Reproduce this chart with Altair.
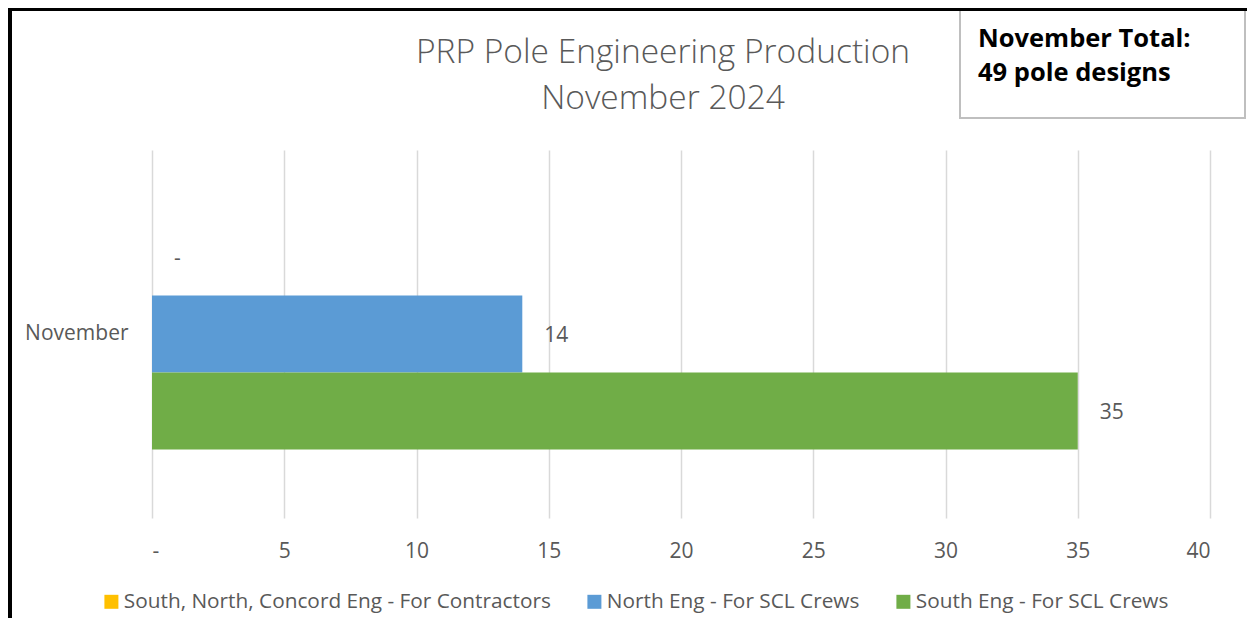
import altair as alt
import pandas as pd

# ---- data ----
category = ["November"]
series = ["South, North, Concord Eng - For Contractors",
          "North Eng - For SCL Crews",
          "South Eng - For SCL Crews"]
values = [0, 14, 35]
colors = ["#FFC000", "#5B9BD5", "#70AD47"]
x_ticks = [0, 5, 10, 15, 20, 25, 30, 35, 40]
title_text = "PRP Pole Engineering Production\nNovember 2024"
total_text = "November Total:\n49 pole designs"

FONT = "Open Sans"
GRAY = "#595959"

df = pd.DataFrame({
    "month": category * len(series),
    "series": series,
    "value": values,
})
df["label"] = ["-" if v == 0 else str(v) for v in values]

W, H = 1058, 368
OX, OY = 152, 150  # page position of plot origin

y_enc = alt.Y("month:N", title=None,
              scale=alt.Scale(paddingInner=0, paddingOuter=0.2965),
              axis=alt.Axis(domain=False, ticks=False, grid=False,
                            labelFont=FONT, labelFontSize=21, labelColor=GRAY,
                            labelPadding=24))
yoff = alt.YOffset("series:N", sort=series,
                   scale=alt.Scale(paddingInner=0, paddingOuter=0))

bars = alt.Chart(df).mark_bar(cornerRadius=0).encode(
    x=alt.X("value:Q", title=None,
            scale=alt.Scale(domain=[0, 40], nice=False),
            axis=alt.Axis(values=x_ticks, domain=False, ticks=False, tickSize=0,
                          grid=True, gridColor="#D9D9D9", gridWidth=1.5,
                          labelFont=FONT, labelFontSize=21, labelColor=GRAY,
                          labelPadding=22,
                          labelExpr="datum.value == 0 ? '-' : datum.label")),
    y=y_enc,
    yOffset=yoff,
    color=alt.Color("series:N", sort=series,
                    scale=alt.Scale(domain=series, range=colors),
                    legend=alt.Legend(title=None, orient="none", direction="horizontal",
                                      legendX=101 - OX, legendY=441,
                                      symbolType="square", symbolSize=196,
                                      symbolStrokeWidth=0,
                                      labelFont=FONT, labelFontSize=20.8, labelColor=GRAY,
                                      labelOffset=2, columnPadding=33,
                                      labelLimit=600)),
)

labels = alt.Chart(df).mark_text(align="left", baseline="middle", dx=22, dy=2,
                                 font=FONT, fontSize=21, color=GRAY).encode(
    x="value:Q",
    y=alt.Y("month:N"),
    yOffset=yoff,
    text="label:N",
)

one = pd.DataFrame({"title": [title_text], "total": [total_text]})

title = alt.Chart(one).mark_text(align="center", baseline="middle",
                                 font=FONT, fontSize=33.5, fontWeight=300,
                                 lineBreak="\n", lineHeight=46,
                                 color=GRAY).encode(
    x=alt.value(663 - OX),
    y=alt.value(53 - OY),
    text="title:N",
)

box = alt.Chart(one).mark_rect(fill="white", stroke="#BFBFBF", strokeWidth=2).encode(
    x=alt.value(960 - OX), x2=alt.value(1245 - OX),
    y=alt.value(10 - OY), y2=alt.value(118 - OY),
)

total = alt.Chart(one).mark_text(align="left", baseline="middle",
                                 font=FONT, fontSize=25.5, fontWeight="bold",
                                 lineBreak="\n", lineHeight=34,
                                 color="#000000").encode(
    x=alt.value(978 - OX),
    y=alt.value(39 - OY),
    text="total:N",
)

border_left = alt.Chart(one).mark_rule(color="black", strokeWidth=4).encode(
    x=alt.value(-142), y=alt.value(-142), y2=alt.value(637 - OY),
)
border_top = alt.Chart(one).mark_rule(color="black", strokeWidth=4).encode(
    x=alt.value(-144), x2=alt.value(1255 - OX), y=alt.value(-141),
)

chart = alt.layer(bars, labels, title, box, total, border_left, border_top).properties(
    width=W, height=H,
    autosize=alt.AutoSizeParams(type="none"),
    padding={"left": 144, "top": 142, "right": 37, "bottom": 100},
).configure(background="white", view=alt.ViewConfig(stroke=None))

chart.save("out.html", embed_options={"renderer": "svg", "actions": False})
